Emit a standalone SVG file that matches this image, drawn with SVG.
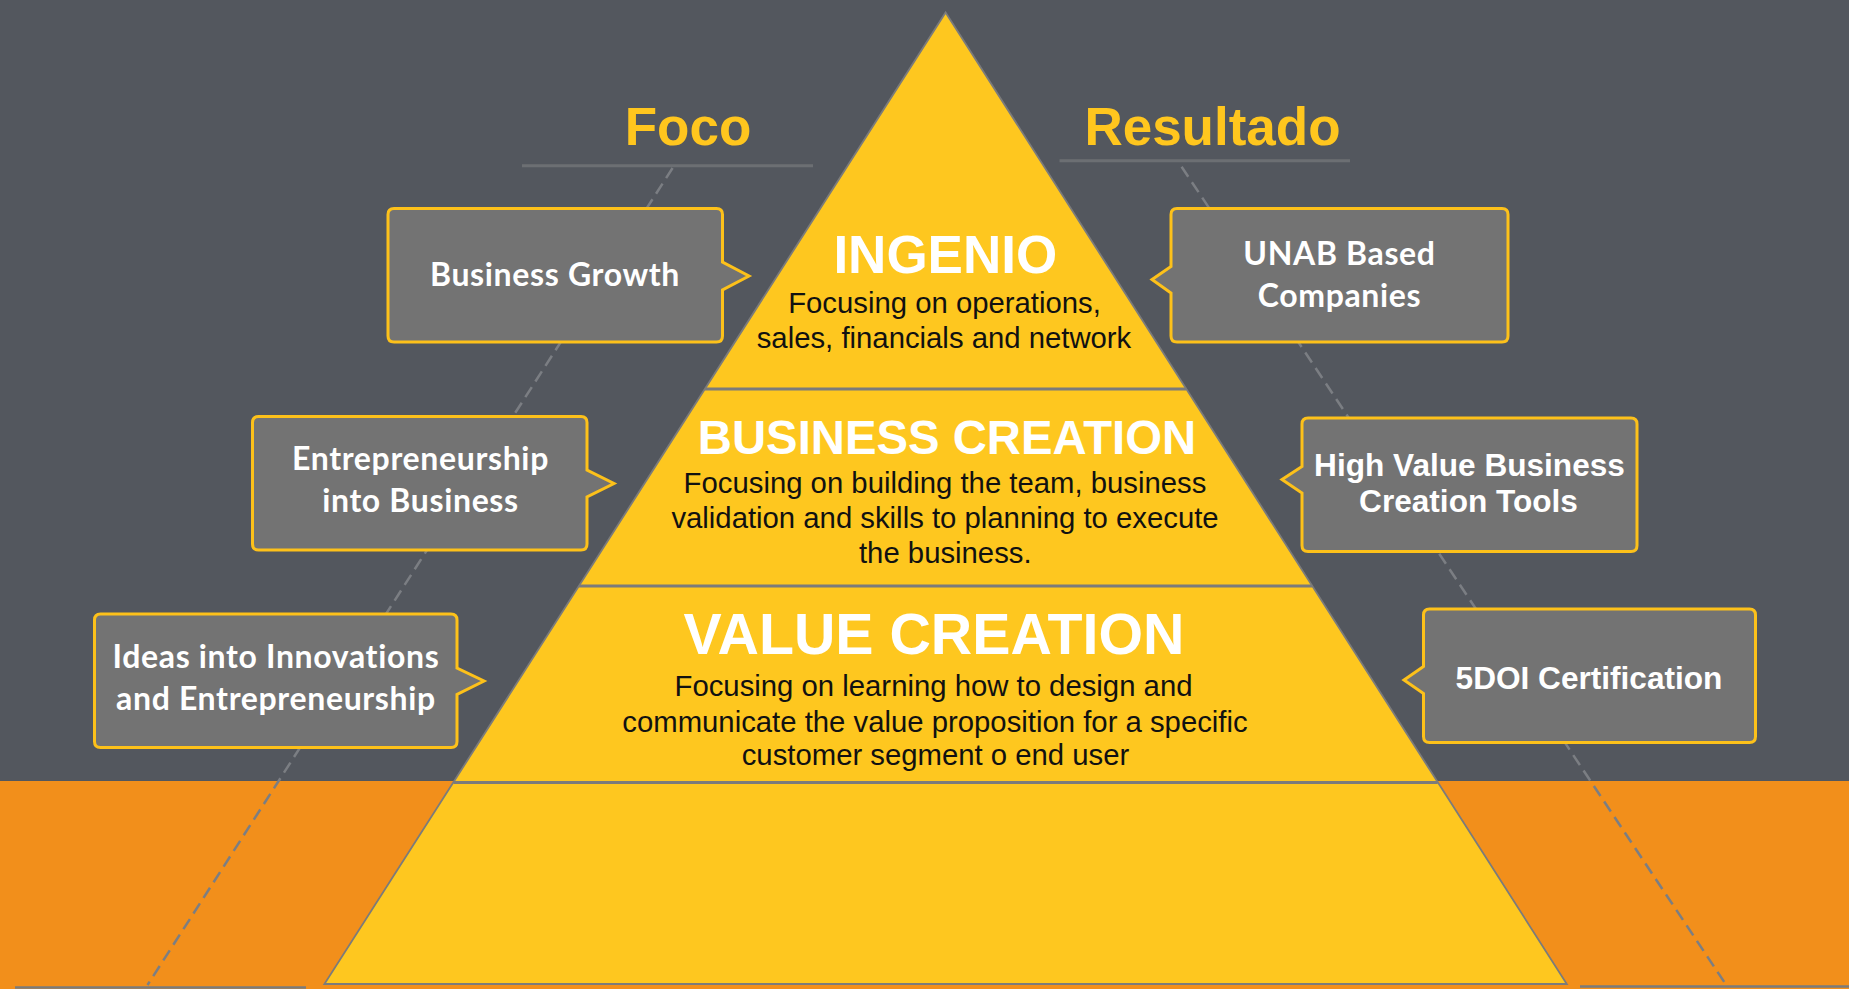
<svg xmlns="http://www.w3.org/2000/svg" width="1849" height="989" viewBox="0 0 1849 989">
<style>
.title{font-family:"Liberation Sans",Arial,sans-serif;font-weight:bold;fill:#FFC61E;text-anchor:middle}
.ul{stroke:#6c6f73;stroke-width:3}
.dash{stroke:#7b7e83;stroke-width:2.5;stroke-dasharray:12 6.6;fill:none}
.pyr{fill:#FEC71F;stroke:#7b7b7b;stroke-width:1.8}
.div{stroke:#7b7b7b;stroke-width:3}
.lvl{font-family:"Liberation Sans",Arial,sans-serif;font-weight:bold;fill:#ffffff;text-anchor:middle}
.desc{font-family:"Liberation Sans",Arial,sans-serif;font-size:29.3px;fill:#111111;text-anchor:middle}
.box{fill:#737373;stroke:#FDC11A;stroke-width:3;stroke-linejoin:miter}
.bt{font-family:Lato,"Open Sans",sans-serif;font-weight:bold;font-size:32px;letter-spacing:0.65px;fill:#ffffff;text-anchor:middle}
.bth{font-family:"Liberation Sans",Arial,sans-serif;font-weight:bold;font-size:31.6px;fill:#ffffff;text-anchor:middle}
</style>
<g id="background">
<rect x="0" y="0" width="1849" height="782" fill="#53575E"/>
<rect x="0" y="781" width="1849" height="208" fill="#F28F1B"/>
<line x1="15" y1="987.5" x2="306" y2="987.5" stroke="#7b7b7b" stroke-width="2.5"/>
<line x1="1580" y1="986.5" x2="1849" y2="986.5" stroke="#7b7b7b" stroke-width="2.5"/>
</g>
<g id="headers">
<text class="title" x="688" y="145" font-size="53">Foco</text>
<line class="ul" x1="522" y1="165.7" x2="813" y2="165.7"/>
<text class="title" x="1212.5" y="145" font-size="53">Resultado</text>
<line class="ul" x1="1059.5" y1="160.7" x2="1350" y2="160.7"/>
</g>
<g id="connectors">
<line class="dash" x1="672.6" y1="168" x2="147.5" y2="985"/>
<line class="dash" x1="1181.6" y1="166.7" x2="1725.6" y2="984"/>
</g>
<g id="pyramid">
<polygon class="pyr" points="945.6,12.5 1566.8,984 324.4,984"/>
<line class="div" x1="705" y1="389" x2="1186" y2="389"/>
<line class="div" x1="579" y1="586" x2="1312" y2="586"/>
<line class="div" x1="453.5" y1="782.5" x2="1437.7" y2="782.5"/>
</g>
<g id="level-ingenio">
<text class="lvl" x="945.3" y="273.3" font-size="53">INGENIO</text>
<text class="desc" x="944.5" y="312.7">Focusing on operations,</text>
<text class="desc" x="944" y="347.7">sales, financials and network</text>
</g>
<g id="level-business-creation">
<text class="lvl" x="947" y="453.5" font-size="47.3">BUSINESS CREATION</text>
<text class="desc" x="945" y="493.3">Focusing on building the team, business</text>
<text class="desc" x="945" y="528.3">validation and skills to planning to execute</text>
<text class="desc" x="945.3" y="563.3">the business.</text>
</g>
<g id="level-value-creation">
<text class="lvl" x="934" y="654" font-size="57.3">VALUE CREATION</text>
<text class="desc" x="933.5" y="696">Focusing on learning how to design and</text>
<text class="desc" x="935" y="731.5">communicate the value proposition for a specific</text>
<text class="desc" x="935.5" y="765">customer segment o end user</text>
</g>
<g id="box-business-growth">
<path class="box" d="M394,208.5 H716.5 Q722.5,208.5 722.5,214.5 V262 L749,276 L722.5,290 V336 Q722.5,342 716.5,342 H394 Q388,342 388,336 V214.5 Q388,208.5 394,208.5 Z"/>
<text class="bt" x="555" y="286">Business Growth</text>
</g>
<g id="box-entrepreneurship">
<path class="box" d="M258.5,416.5 H581 Q587,416.5 587,422.5 V470 L614,483.5 L587,497 V544 Q587,550 581,550 H258.5 Q252.5,550 252.5,544 V422.5 Q252.5,416.5 258.5,416.5 Z"/>
<text class="bt" x="420.5" y="469.5">Entrepreneurship</text>
<text class="bt" x="420.5" y="511.7">into Business</text>
</g>
<g id="box-ideas">
<path class="box" d="M100.5,614 H451 Q457,614 457,620 V668 L484,681 L457,694.5 V741.5 Q457,747.5 451,747.5 H100.5 Q94.5,747.5 94.5,741.5 V620 Q94.5,614 100.5,614 Z"/>
<text class="bt" x="276" y="668.3">Ideas into Innovations</text>
<text class="bt" x="276" y="710">and Entrepreneurship</text>
</g>
<g id="box-unab">
<path class="box" d="M1177,208.5 H1502 Q1508,208.5 1508,214.5 V336 Q1508,342 1502,342 H1177 Q1171,342 1171,336 V293 L1152,279.5 L1171,266.5 V214.5 Q1171,208.5 1177,208.5 Z"/>
<text class="bt" x="1339.5" y="265">UNAB Based</text>
<text class="bt" x="1339.5" y="306.7">Companies</text>
</g>
<g id="box-high-value">
<path class="box" d="M1308,418 H1631 Q1637,418 1637,424 V545.5 Q1637,551.5 1631,551.5 H1308 Q1302,551.5 1302,545.5 V493 L1282,479.5 L1302,466.5 V424 Q1302,418 1308,418 Z"/>
<text class="bth" x="1469.5" y="476">High Value Business</text>
<text class="bth" x="1468.5" y="512.3">Creation Tools</text>
</g>
<g id="box-5doi">
<path class="box" d="M1429.5,609 H1749.5 Q1755.5,609 1755.5,615 V736.5 Q1755.5,742.5 1749.5,742.5 H1429.5 Q1423.5,742.5 1423.5,736.5 V693.5 L1404,680 L1423.5,666.5 V615 Q1423.5,609 1429.5,609 Z"/>
<text class="bth" x="1589" y="689">5DOI Certification</text>
</g>
</svg>
